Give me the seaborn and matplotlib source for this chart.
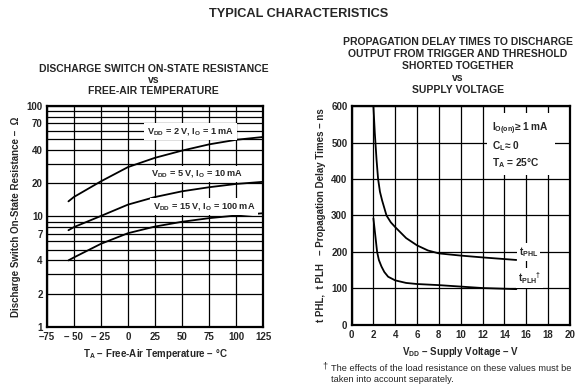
import numpy as np
import pandas as pd
import matplotlib
matplotlib.use("Agg")
import matplotlib.pyplot as plt
import seaborn as sns

# left chart: on-state resistance vs temperature
temp_c = [-55, -50, -25, 0, 25, 50, 75, 100, 125]
r_2v = [13.7, 15.0, 20.8, 28.0, 34.0, 39.5, 45.0, 49.5, 52.5]
r_5v = [7.5, 8.0, 10.1, 12.8, 15.0, 16.9, 18.4, 19.7, 20.6]
r_15v = [4.0, 4.25, 5.65, 7.05, 8.1, 8.95, 9.65, 10.2, 10.7]
left_labels = ["V$_{\\rm DD}$ = 2 V, I$_{\\rm O}$ = 1 mA",
               "V$_{\\rm DD}$ = 5 V, I$_{\\rm O}$ = 10 mA",
               "V$_{\\rm DD}$ = 15 V, I$_{\\rm O}$ = 100 mA"]
r_ticklabels = [1, 2, 4, 7, 10, 20, 40, 70, 100]

# right chart: propagation delay vs supply voltage
vdd_phl = [2.0, 2.13, 2.29, 2.43, 2.6, 2.8, 3.2, 3.6, 4, 5, 6, 7, 8, 10, 12, 15.1]
t_phl = [600, 525, 452, 400, 365, 341, 300, 281, 268, 238, 218, 204, 196, 190, 185, 178]
vdd_plh = [2.0, 2.1, 2.2, 2.34, 2.5, 2.74, 3.0, 3.35, 4, 5, 6, 8, 10, 12, 15.1]
t_plh = [292, 265, 238, 200, 178, 160, 145, 132, 122, 115, 112, 109, 105, 101, 98]

sns.set_theme(style="white")
plt.rcParams['font.family'] = ['Liberation Sans', 'DejaVu Sans']
plt.rcParams['font.weight'] = 'bold'
plt.rcParams['mathtext.fontset'] = 'custom'
plt.rcParams['mathtext.rm'] = 'Liberation Sans:bold'
plt.rcParams['mathtext.it'] = 'Liberation Sans:bold'
plt.rcParams['mathtext.bf'] = 'Liberation Sans:bold'

fig = plt.figure(figsize=(5.85, 3.9), dpi=100)
ax1 = fig.add_axes([0.080, 0.162, 0.370, 0.566])
ax2 = fig.add_axes([0.601, 0.167, 0.373, 0.561])

fig.text(0.51, 0.963, "TYPICAL CHARACTERISTICS", ha="center", va="center",
         fontsize=9.2, fontweight="bold")
fig.text(0.263, 0.795, "DISCHARGE SWITCH ON-STATE RESISTANCE\nvs\nFREE-AIR TEMPERATURE",
         ha="center", va="center", fontsize=7.5, fontweight="bold", linespacing=1.15)
fig.text(0.783, 0.831, "PROPAGATION DELAY TIMES TO DISCHARGE\nOUTPUT FROM TRIGGER AND THRESHOLD\n"
         "SHORTED TOGETHER\nvs\nSUPPLY VOLTAGE",
         ha="center", va="center", fontsize=7.5, fontweight="bold", linespacing=1.25)

for ax in (ax1, ax2):
    for s in ax.spines.values():
        s.set_color("black")
        s.set_linewidth(1.6)
    ax.tick_params(labelsize=7, length=0, pad=3)
    ax.tick_params(axis="x", pad=4)

# ---- left
df1 = pd.DataFrame({"T": temp_c * 3, "R": r_2v + r_5v + r_15v,
                    "s": ["a"] * 9 + ["b"] * 9 + ["c"] * 9})
sns.lineplot(data=df1, x="T", y="R", units="s", estimator=None, color="black",
             lw=1.3, ax=ax1, zorder=3)
ax1.set_yscale("log")
ax1.set_xlim(-75, 125)
ax1.set_ylim(1, 100)
ax1.set_xticks(range(-75, 126, 25))
ax1.set_xticklabels(["\u201375", "\u2013 50", "\u2013 25", "0", "25", "50", "75", "100", "125"],
                    fontweight="bold")
yt = list(range(1, 10)) + list(range(10, 101, 10))
ax1.set_yticks(yt)
ax1.set_yticklabels([str(v) if v in r_ticklabels else "" for v in yt], fontweight="bold")
ax1.minorticks_off()
ax1.grid(True, color="black", lw=0.9)
ax1.set_axisbelow(True)
ax1.set_xlabel("T$_{\\rm A}$ \u2013 Free-Air Temperature \u2013 \u00b0C", fontsize=7,
               fontweight="bold", labelpad=3)
ax1.set_ylabel("Discharge Switch On-State Resistance \u2013  \u03a9", fontsize=7,
               fontweight="bold", labelpad=4)
for lbl, xv, yv in zip(left_labels, [58, 64, 70], [59, 24.3, 12.3]):
    ax1.text(xv, yv, lbl, ha="center", va="center", fontsize=6.6, fontweight="bold",
             bbox=dict(facecolor="white", edgecolor="none", pad=2), zorder=4)

# ---- right
df2 = pd.DataFrame({"V": vdd_phl + vdd_plh, "t": t_phl + t_plh,
                    "s": ["phl"] * len(vdd_phl) + ["plh"] * len(vdd_plh)})
sns.lineplot(data=df2, x="V", y="t", units="s", estimator=None, color="black",
             lw=1.3, ax=ax2, zorder=3)
ax2.set_xlim(0, 20)
ax2.set_ylim(0, 600)
ax2.set_xticks(range(0, 21, 2))
ax2.set_yticks(range(0, 601, 100))
ax2.set_xticklabels([str(v) for v in range(0, 21, 2)], fontweight="bold")
ax2.set_yticklabels([str(v) for v in range(0, 601, 100)], fontweight="bold")
ax2.grid(True, color="black", lw=0.9)
ax2.set_axisbelow(True)
ax2.set_xlabel("V$_{\\rm DD}$ \u2013 Supply Voltage \u2013 V", fontsize=7,
               fontweight="bold", labelpad=3)
ax2.set_ylabel("t PHL,  t PLH   \u2013 Propagation Delay Times \u2013 ns", fontsize=7,
               fontweight="bold", labelpad=4)
ax2.text(12.9, 560, "I$_{\\rm O(on)}$\u2265 1 mA\nC$_{\\rm L}$\u2248 0\nT$_{\\rm A}$ = 25\u00b0C",
         ha="left", va="top", fontsize=7.3, fontweight="bold", linespacing=1.25,
         bbox=dict(facecolor="white", edgecolor="none", pad=4), zorder=4)
ax2.text(16.2, 200, "t$_{\\rm PHL}$", ha="center", va="center", fontsize=7.2,
         fontweight="bold", bbox=dict(facecolor="white", edgecolor="none", pad=1.5), zorder=4)
ax2.text(16.3, 129, "t$_{\\rm PLH}{}^{\u2020}$", ha="center", va="center", fontsize=7.2,
         fontweight="bold", bbox=dict(facecolor="white", edgecolor="none", pad=1.5), zorder=4)

fig.text(0.551, 0.062, "\u2020", fontsize=6.7, ha="left", va="center", fontweight="normal")
fig.text(0.565, 0.042, "The effects of the load resistance on these values must be\ntaken into account separately.",
         fontsize=6.7, ha="left", va="center", fontweight="normal", linespacing=1.3)

fig.savefig("out.png", dpi=100)
